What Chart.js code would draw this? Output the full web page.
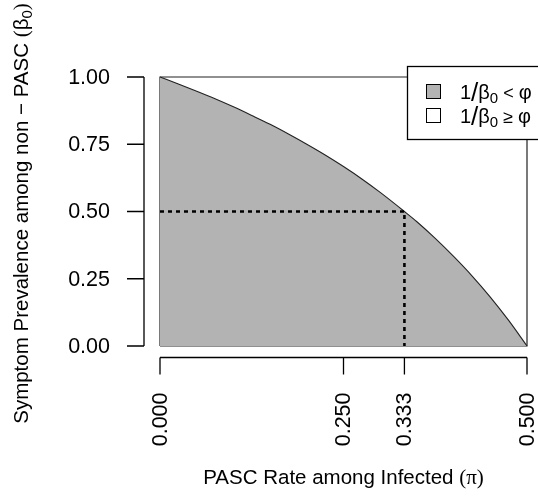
<!DOCTYPE html>
<html>
<head>
<meta charset="utf-8">
<script src="https://cdn.jsdelivr.net/npm/chart.js@4/dist/chart.umd.min.js"></script>
<style>
  html, body { margin: 0; padding: 0; background: #fff; }
  #wrap { width: 538px; height: 498px; }
</style>
</head>
<body>
<div id="wrap"><canvas id="my-chart" width="538" height="498"></canvas></div>
<script>
// values
const piValues = [0, 0.025, 0.05, 0.075, 0.1, 0.125, 0.15, 0.175, 0.2, 0.225, 0.25, 0.275, 0.3, 0.333, 0.35, 0.375, 0.4, 0.425, 0.45, 0.475, 0.5];
const betaValues = [1.0, 0.974, 0.947, 0.919, 0.889, 0.857, 0.824, 0.788, 0.75, 0.71, 0.667, 0.621, 0.571, 0.5, 0.462, 0.4, 0.333, 0.261, 0.182, 0.095, 0.0];
const xTicks = [0, 0.25, 0.333, 0.5];
const xTickLabels = ["0.000", "0.250", "0.333", "0.500"];
const yTicks = [0, 0.25, 0.5, 0.75, 1];
const yTickLabels = ["0.00", "0.25", "0.50", "0.75", "1.00"];
const cutX = [0, 0.333, 0.333];
const cutY = [0.5, 0.5, 0];
const boxX = [0, 0, 0.5, 0.5, 0];
const boxY = [0, 1, 1, 0, 0];

const FONT = "'Liberation Sans', Arial, Helvetica, sans-serif";
const SERIF = "'Liberation Serif', 'DejaVu Serif', serif";

function pts(xs, ys) {
  return xs.map((x, i) => ({ x: x, y: ys[i] }));
}

// draws a list of text pieces one after another, starting at x
function drawParts(ctx, parts, x, y, align) {
  let total = 0;
  parts.forEach((p) => {
    ctx.font = p.font;
    total += ctx.measureText(p.t).width;
  });
  let cx = align === "center" ? x - total / 2 : x;
  ctx.textAlign = "left";
  parts.forEach((p) => {
    ctx.font = p.font;
    ctx.fillText(p.t, cx, y + (p.dy || 0));
    cx += ctx.measureText(p.t).width;
  });
}

const axesPlugin = {
  id: "rAxes",
  afterDraw(chart) {
    const ctx = chart.ctx;
    const xs = chart.scales.x;
    const ys = chart.scales.y;
    const area = chart.chartArea;
    ctx.save();
    ctx.strokeStyle = "#000";
    ctx.fillStyle = "#000";
    ctx.lineWidth = 1.3;

    // y axis
    const ax = area.left - 16;
    ctx.beginPath();
    ctx.moveTo(ax, ys.getPixelForValue(0));
    ctx.lineTo(ax, ys.getPixelForValue(1));
    yTicks.forEach((v) => {
      const py = ys.getPixelForValue(v);
      ctx.moveTo(ax, py);
      ctx.lineTo(ax - 17, py);
    });
    ctx.stroke();
    ctx.font = "21.5px " + FONT;
    ctx.textAlign = "right";
    ctx.textBaseline = "middle";
    yTicks.forEach((v, i) => {
      ctx.fillText(yTickLabels[i], ax - 34, ys.getPixelForValue(v) + 1);
    });

    // x axis
    const ay = area.bottom + 11.5;
    ctx.beginPath();
    ctx.moveTo(xs.getPixelForValue(0), ay);
    ctx.lineTo(xs.getPixelForValue(0.5), ay);
    xTicks.forEach((v) => {
      const px = xs.getPixelForValue(v);
      ctx.moveTo(px, ay);
      ctx.lineTo(px, ay + 17);
    });
    ctx.stroke();
    xTicks.forEach((v, i) => {
      ctx.save();
      ctx.translate(xs.getPixelForValue(v) + 1, ay + 35);
      ctx.rotate(-Math.PI / 2);
      ctx.textAlign = "right";
      ctx.textBaseline = "middle";
      ctx.font = "21.5px " + FONT;
      ctx.fillText(xTickLabels[i], 0, 0);
      ctx.restore();
    });

    // axis titles
    ctx.textBaseline = "alphabetic";
    drawParts(ctx, [
      { t: "PASC Rate among Infected ", font: "20.5px " + FONT },
      { t: "(", font: "21px " + SERIF },
      { t: "π", font: "21px " + SERIF },
      { t: ")", font: "21px " + SERIF }
    ], (area.left + area.right) / 2, 484, "center");

    ctx.save();
    ctx.translate(28, (area.top + area.bottom) / 2 + 2);
    ctx.rotate(-Math.PI / 2);
    drawParts(ctx, [
      { t: "Symptom Prevalence among non \u2212 PASC ", font: "20.5px " + FONT },
      { t: "(", font: "21px " + SERIF },
      { t: "β", font: "20.5px " + FONT },
      { t: "0", font: "15px " + FONT, dy: 4 },
      { t: ")", font: "21px " + SERIF }
    ], 0, 0, "center");
    ctx.restore();

    // legend
    const lx = 407.5, ly = 66.5;
    ctx.fillStyle = "#fff";
    ctx.fillRect(lx, ly, 140, 73);
    ctx.lineWidth = 1.3;
    ctx.strokeRect(lx, ly, 140, 73);
    const fills = ["#b3b3b3", "#fff"];
    const signs = [" < ", " \u2265 "];
    fills.forEach((f, i) => {
      const cy = 91.5 + i * 24;
      ctx.fillStyle = f;
      ctx.fillRect(426.5, cy - 7, 14, 14);
      ctx.strokeStyle = "#000";
      ctx.lineWidth = 1;
      ctx.strokeRect(426.5, cy - 7, 14, 14);
      ctx.fillStyle = "#000";
      ctx.textBaseline = "alphabetic";
      drawParts(ctx, [
        { t: "1", font: "20px " + FONT },
        { t: "/", font: "26px " + FONT, dy: 2 },
        { t: "β", font: "20px " + FONT },
        { t: "0", font: "15px " + FONT, dy: 4 },
        { t: signs[i], font: "18px " + FONT },
        { t: "φ", font: "20px " + FONT }
      ], 460, cy + 7, "left");
    });
    ctx.restore();
  }
};

const ctx = document.getElementById("my-chart").getContext("2d");
const chart = new Chart(ctx, {
  type: "scatter",
  data: {
    datasets: [
      {
        label: "cut",
        data: pts(cutX, cutY),
        showLine: true,
        borderColor: "#000",
        borderWidth: 2.6,
        borderDash: [4, 4],
        pointRadius: 0,
        fill: false,
      },
      {
        label: "1/b0 < phi",
        data: pts(piValues, betaValues),
        showLine: true,
        borderColor: "#222",
        borderWidth: 1.1,
        backgroundColor: "#b3b3b3",
        pointRadius: 0,
        cubicInterpolationMode: "monotone",
        fill: "origin",
      },
      {
        label: "box",
        data: pts(boxX, boxY),
        showLine: true,
        borderColor: "#222",
        borderWidth: 1.2,
        pointRadius: 0,
        fill: false,
      },
    ],
  },
  options: {
    responsive: false,
    animation: false,
    clip: false,
    layout: { padding: { left: 160, right: 11, top: 77, bottom: 152 } },
    plugins: { legend: { display: false }, tooltip: { enabled: false } },
    scales: {
      x: { type: "linear", min: 0, max: 0.5, display: false },
      y: { type: "linear", min: 0, max: 1, display: false },
    },
  },
  plugins: [axesPlugin],
}); // closes chart
</script>
</body>
</html>
